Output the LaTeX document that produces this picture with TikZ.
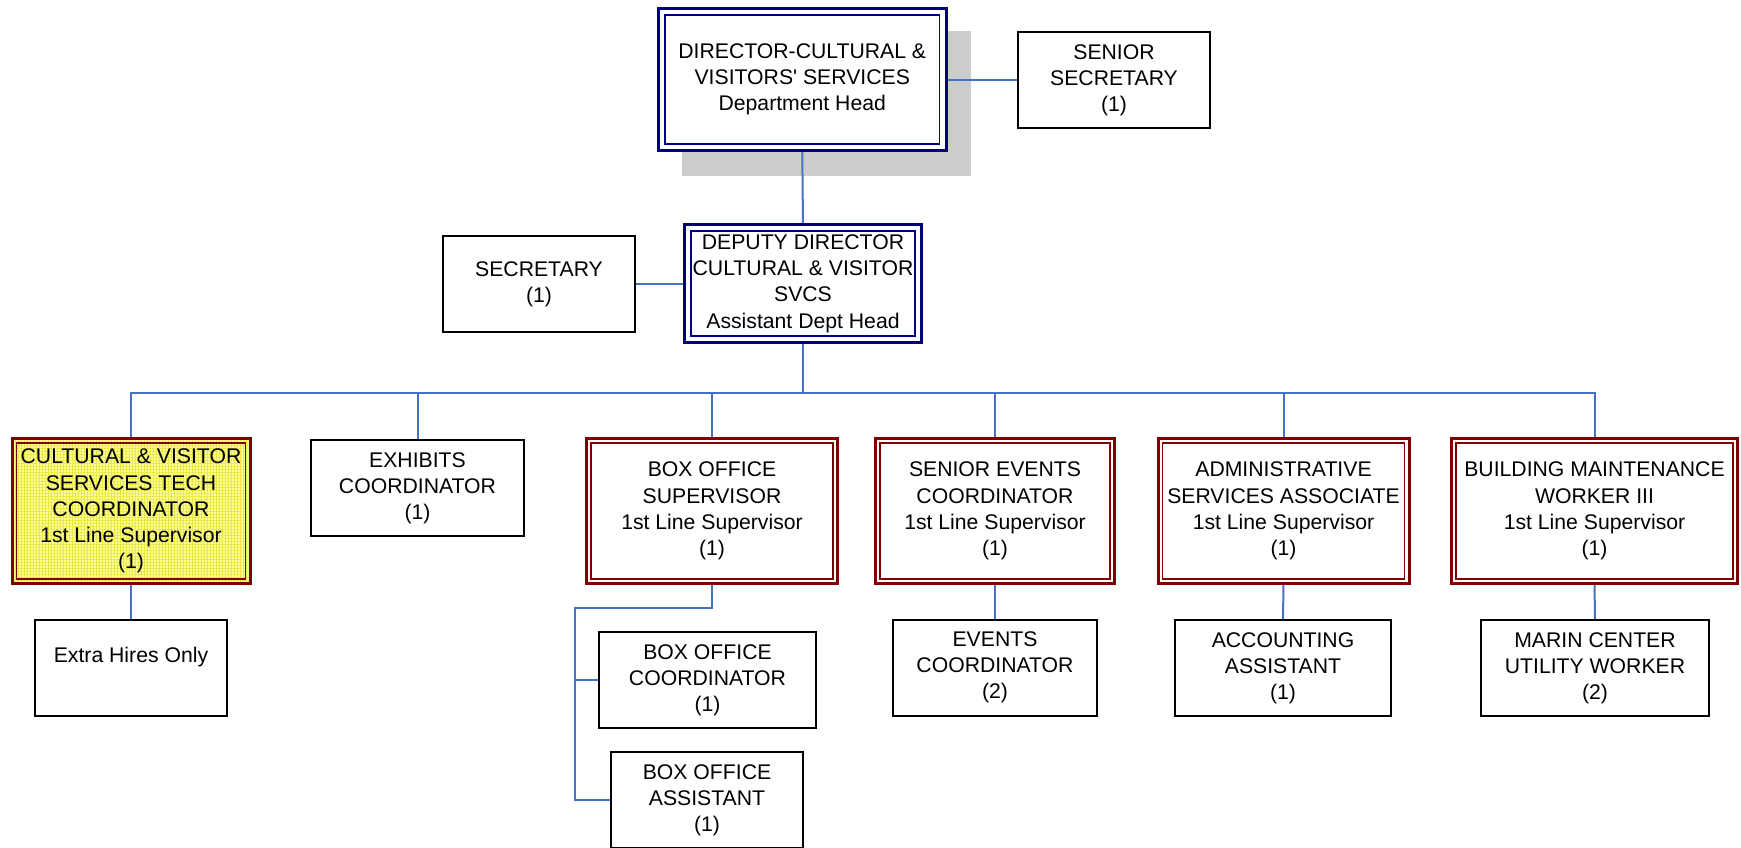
\documentclass[tikz,border=0pt]{standalone}
\usepackage{fontspec}
\setmainfont{Liberation Sans}
\usetikzlibrary{patterns.meta}
\definecolor{navyc}{RGB}{0,0,128}
\definecolor{redc}{RGB}{128,0,0}
\definecolor{connc}{RGB}{68,114,196}
\definecolor{shadowc}{RGB}{204,204,204}
\definecolor{ylwbg}{RGB}{255,255,150}
\definecolor{ylwgrid}{RGB}{232,232,70}
\pgfdeclarelayer{paper}
\pgfdeclarelayer{wires}
\pgfsetlayers{paper,wires,main}

\begin{document}
\begin{tikzpicture}[x=0.5pt,y=-0.5pt,
  every node/.style={inner sep=0pt, outer sep=0pt, align=center,
    font=\fontsize{10.6}{13.1}\selectfont},
  sz/.style 2 args={minimum width=#1*0.5pt, minimum height=#2*0.5pt},
  plainbox/.style={draw=black, line width=1pt, fill=white},
  navybox/.style={draw=navyc, line width=1.5pt, fill=white},
  redbox/.style={draw=redc, line width=1.5pt, fill=white},
  techbox/.style={draw=redc, line width=1.5pt, preaction={fill=ylwbg},
    pattern={Hatch[distance=1.5pt, line width=0.35pt]}, pattern color=ylwgrid},
  conn/.style={draw=connc, line width=1pt},
  innerframe/.style={line width=0.9pt}
]
\useasboundingbox (0,0) rectangle (1741,847);
\begin{pgfonlayer}{paper}
  \fill[white] (0,0) rectangle (1741,847);
  % drop shadow behind the director box
  \fill[shadowc] (682,31) rectangle (971,176);
\end{pgfonlayer}

% top level
\node[navybox, sz={287.5}{142}] (dir) at (802.25,79.5)
  {DIRECTOR-CULTURAL \&\\VISITORS\textquotesingle{} SERVICES\\Department Head};
\node[plainbox, sz={192}{96}] (ssec) at (1114,80) {SENIOR\\SECRETARY\\(1)};

% deputy level
\node[navybox, sz={237}{118}] (dep) at (803,283.5)
  {DEPUTY DIRECTOR\\CULTURAL \& VISITOR\\SVCS\\Assistant Dept Head};
\node[plainbox, sz={192}{96}] (sec) at (539,284) {SECRETARY\\(1)};

% sections
\node[techbox, sz={238}{144.5}] (tech) at (131,511)
  {CULTURAL \& VISITOR\\SERVICES TECH\\COORDINATOR\\1st Line Supervisor\\(1)};
\node[plainbox, sz={213}{96}] (exh) at (417.5,488) {EXHIBITS\\COORDINATOR\\(1)};
\node[redbox, sz={251}{144.5}] (bos) at (712,511)
  {BOX OFFICE\\SUPERVISOR\\1st Line Supervisor\\(1)};
\node[redbox, sz={239}{144.5}] (sev) at (995,511)
  {SENIOR EVENTS\\COORDINATOR\\1st Line Supervisor\\(1)};
\node[redbox, sz={251}{144.5}] (adm) at (1283.5,511)
  {ADMINISTRATIVE\\SERVICES ASSOCIATE\\1st Line Supervisor\\(1)};
\node[redbox, sz={286}{144.5}] (bmw) at (1594.5,511)
  {BUILDING MAINTENANCE\\WORKER III\\1st Line Supervisor\\(1)};

% staff
\node[plainbox, sz={192}{96}] (xh) at (131,667.5) {Extra Hires Only\\\mbox{}};
\node[plainbox, sz={217}{96}] (boc) at (707.5,680) {BOX OFFICE\\COORDINATOR\\(1)};
\node[plainbox, sz={192}{96}] (boa) at (707,800) {BOX OFFICE\\ASSISTANT\\(1)};
\node[plainbox, sz={204}{96}] (ev) at (995,667.5) {EVENTS\\COORDINATOR\\(2)};
\node[plainbox, sz={216}{96}] (acc) at (1283,668) {ACCOUNTING\\ASSISTANT\\(1)};
\node[plainbox, sz={228}{96}] (mar) at (1595,668) {MARIN CENTER\\UTILITY WORKER\\(2)};

% inner lines of the double frames
\foreach \n/\c/\d in {dir/navyc/3.25pt,dep/navyc/3.25pt,tech/redc/2.25pt,
    bos/redc/2.25pt,sev/redc/2.25pt,adm/redc/2.25pt,bmw/redc/2.25pt}
  \draw[innerframe, draw=\c] ([shift={(\d,-\d)}]\n.north west)
    rectangle ([shift={(-\d,\d)}]\n.south east);

% connectors
\coordinate (bus) at (803,393);
\coordinate (bj) at (575,608);
\begin{pgfonlayer}{wires}
  \draw[conn] (dir.east |- ssec.west) -- (ssec.west);
  \draw[conn] (dir.south) -- (dep.north);
  \draw[conn] (sec.east) -- (dep.west |- sec.east);
  \draw[conn] (dep.south) -- (bus);
  \foreach \n in {tech,exh,bos,sev,adm,bmw}
    \draw[conn] (bus) -| (\n.north);
  \draw[conn] (tech.south) -- (xh.north);
  \draw[conn] (sev.south) -- (ev.north);
  \draw[conn] (adm.south) -- (acc.north);
  \draw[conn] (bmw.south) -- (mar.north);
  \draw[conn] (bos.south) |- (bj) |- (boc.west);
  \draw[conn] (bj) |- (boa.west);
\end{pgfonlayer}
\end{tikzpicture}
\end{document}
